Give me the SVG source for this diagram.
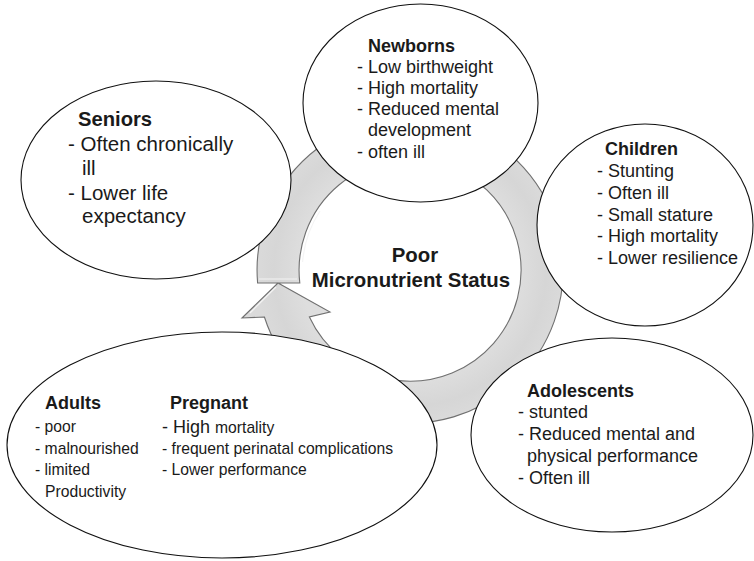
<svg xmlns="http://www.w3.org/2000/svg" width="754" height="561" viewBox="0 0 754 561">
  <style>
    text { font-family: "Liberation Sans", Arial, sans-serif; fill: #1a1a1a; }
    .node { fill: #ffffff; stroke: #111111; stroke-width: 1.1; }
    .h { font-weight: bold; font-size: 18px; }
    .t { font-size: 18px; }
    .s { font-size: 15.7px; }
    .big { font-size: 20.5px; }
    .hb { font-weight: bold; font-size: 20.2px; }
    .center { font-weight: bold; font-size: 20.4px; text-anchor: middle; }
    .ring { fill: url(#ringFill); stroke: #707070; stroke-width: 1.1; }
    .shine { fill: none; stroke: #f4f4f4; stroke-width: 1.2; }
  </style>
  <defs>
    <radialGradient id="ringFill" gradientUnits="userSpaceOnUse" cx="410" cy="270" r="160">
      <stop offset="0.68" stop-color="#dedede"/>
      <stop offset="0.85" stop-color="#d6d6d6"/>
      <stop offset="0.96" stop-color="#dadada"/>
    </radialGradient>
  </defs>

  <rect width="754" height="561" fill="#ffffff"/>

  <!-- circular arrow around the central statement -->
  <g id="connectors">
    <path class="ring" d="M 257.6 283 A 153 153 0 1 1 264.4 317 L 242 318 L 278 283 L 330 312 L 309.4 317 A 111 111 0 1 0 299.8 283 Z"/>
    <!-- bevel highlights -->
    <path class="shine" d="M 302.6 262 A 108 108 0 0 1 320 211"/>
    <path class="shine" d="M 259 279 L 297 279"/>
    <path class="shine" d="M 250 313 L 276 287"/>
  </g>

  <g id="center">
    <text class="center" x="415" y="262">Poor</text>
    <text class="center" x="411" y="287">Micronutrient Status</text>
  </g>

  <g id="newborns">
    <ellipse class="node" cx="420.5" cy="103" rx="117.5" ry="99"/>
    <text class="h" x="368" y="52">Newborns</text>
    <text class="t" x="357" y="73">- Low birthweight</text>
    <text class="t" x="357" y="94">- High mortality</text>
    <text class="t" x="357" y="115">- Reduced mental</text>
    <text class="t" x="368" y="136">development</text>
    <text class="t" x="357" y="158">- often ill</text>
  </g>

  <g id="seniors">
    <ellipse class="node" cx="156" cy="180" rx="135" ry="99"/>
    <text class="hb" x="78" y="126">Seniors</text>
    <text class="big" x="68" y="151">- Often chronically</text>
    <text class="big" x="82" y="175">ill</text>
    <text class="big" x="68" y="200">- Lower life</text>
    <text class="big" x="82" y="223">expectancy</text>
  </g>

  <g id="children">
    <ellipse class="node" cx="645" cy="225" rx="108" ry="101"/>
    <text class="h" x="605" y="155">Children</text>
    <text class="t" x="597" y="177">- Stunting</text>
    <text class="t" x="597" y="199">- Often ill</text>
    <text class="t" x="597" y="221">- Small stature</text>
    <text class="t" x="597" y="242">- High mortality</text>
    <text class="t" x="597" y="264">- Lower resilience</text>
  </g>

  <g id="adolescents">
    <ellipse class="node" cx="612" cy="435" rx="141" ry="97"/>
    <text class="h" x="527" y="397">Adolescents</text>
    <text class="t" x="518" y="418">- stunted</text>
    <text class="t" x="518" y="440">- Reduced mental and</text>
    <text class="t" x="527" y="462">physical performance</text>
    <text class="t" x="518" y="484">- Often ill</text>
  </g>

  <g id="adults-pregnant">
    <ellipse class="node" cx="222" cy="445" rx="215" ry="113"/>
    <text class="h" x="45" y="409">Adults</text>
    <text class="s" x="35" y="432">- poor</text>
    <text class="s" x="35" y="454">- malnourished</text>
    <text class="s" x="35" y="475">- limited</text>
    <text class="s" x="45" y="497">Productivity</text>
    <text class="h" x="170" y="409">Pregnant</text>
    <text x="162" y="433"><tspan class="t">- High </tspan><tspan class="s">mortality</tspan></text>
    <text class="s" x="162" y="454">- frequent perinatal complications</text>
    <text class="s" x="162" y="475">- Lower performance</text>
  </g>
</svg>
